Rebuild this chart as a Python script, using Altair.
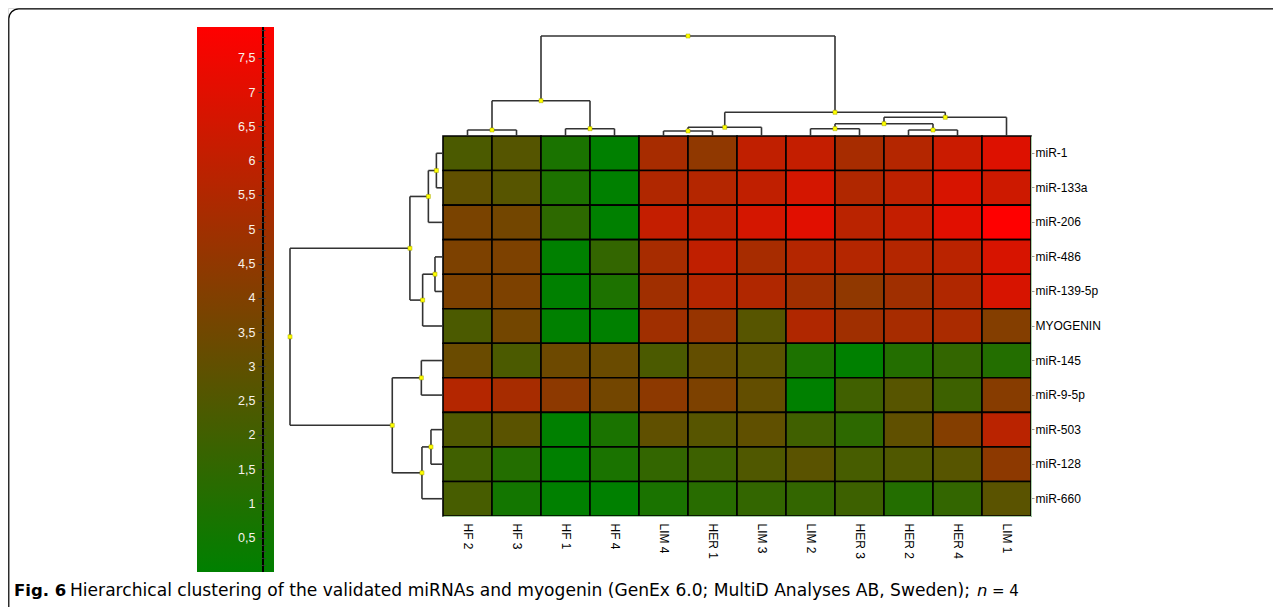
import altair as alt
import pandas as pd

# ---------------- data ----------------
columns = ["HF 2", "HF 3", "HF 1", "HF 4", "LIM 4", "HER 1", "LIM 3", "LIM 2", "HER 3", "HER 2", "HER 4", "LIM 1"]
rows = ["miR-1", "miR-133a", "miR-206", "miR-486", "miR-139-5p", "MYOGENIN",
        "miR-145", "miR-9-5p", "miR-503", "miR-128", "miR-660"]

v_mir1 = [2.35, 2.65, 0.8, 0.0, 5.2, 4.5, 6.0, 6.1, 5.2, 5.6, 6.3, 6.9]
v_mir133a = [3.0, 2.7, 0.9, 0.0, 5.5, 5.6, 6.0, 6.6, 5.5, 5.9, 6.7, 6.4]
v_mir206 = [3.8, 3.6, 1.4, 0.0, 6.1, 6.0, 6.6, 7.0, 5.8, 6.1, 7.0, 7.95]
v_mir486 = [3.9, 3.9, 0.0, 1.6, 5.2, 6.0, 5.2, 5.6, 5.6, 5.6, 5.8, 6.7]
v_mir139 = [3.9, 3.9, 0.0, 0.9, 5.0, 5.6, 5.5, 5.0, 4.5, 5.0, 5.5, 6.7]
v_myog = [2.35, 3.6, 0.0, 0.0, 5.0, 4.7, 2.7, 5.5, 5.0, 5.2, 5.3, 4.1]
v_mir145 = [3.3, 2.35, 3.4, 3.3, 2.35, 3.1, 2.8, 0.9, 0.0, 1.1, 1.6, 1.1]
v_mir9 = [5.6, 5.2, 4.4, 3.6, 4.4, 3.9, 3.1, 0.0, 2.0, 2.7, 1.9, 4.2]
v_mir503 = [2.5, 2.8, 0.0, 0.8, 3.0, 2.7, 3.0, 2.0, 1.4, 3.0, 4.1, 5.8]
v_mir128 = [2.0, 1.1, 0.0, 0.8, 1.6, 1.9, 2.5, 2.8, 2.2, 2.5, 2.7, 4.4]
v_mir660 = [2.2, 0.6, 0.0, 0.0, 0.8, 1.25, 1.6, 1.6, 1.9, 1.1, 1.6, 2.8]
heat_rows = [v_mir1, v_mir133a, v_mir206, v_mir486, v_mir139, v_myog,
             v_mir145, v_mir9, v_mir503, v_mir128, v_mir660]

# linkage: (child a, child b, height); ids >= n refer to earlier merges
col_merges = [(0, 1, 6.0), (2, 3, 7.3), (12, 13, 35.3), (4, 5, 5.0), (15, 6, 8.7),
              (7, 8, 7.3), (9, 10, 6.0), (17, 18, 12.3), (19, 11, 18.7), (16, 20, 23.7),
              (14, 21, 100.0)]
row_merges = [(0, 1, 6.6), (11, 2, 14.6), (3, 4, 8.0), (13, 5, 20.3), (12, 14, 33.0),
              (6, 7, 21.6), (8, 9, 12.0), (17, 10, 21.0), (16, 18, 50.6), (15, 19, 152.6)]

colorbar_max = 7.95
colorbar_ticks = [round(i / 10, 1) for i in range(1, 80)]

caption_bold = "Fig. 6"
caption_text = "Hierarchical clustering of the validated miRNAs and myogenin (GenEx 6.0; MultiD Analyses AB, Sweden);"
caption_italic = "n"
caption_end = "= 4"

# ---------------- layout ----------------
W, H = 1265, 599
HX0, HX1 = 435, 1023     # heatmap x extent
HY0, HY1 = 128, 508      # heatmap y extent
TOP_Y = 28               # top dendrogram root level
LEFT_X = 282             # left dendrogram root level
CB_Y0, CB_Y1 = 564, 19   # colour bar
CB_LINE = 255
GREEN, RED = "#008000", "#ff0000"
LINE = "#333333"
FONT = "Liberation Sans"
CAP_FONT = "DejaVu Sans"


def dendro(merges, n):
    pos = {i: float(i) for i in range(n)}
    hgt = {i: 0.0 for i in range(n)}
    segs, nodes = [], []
    for k, (a, b, h) in enumerate(merges):
        segs.append(dict(p=pos[a], p2=pos[a], h=hgt[a], h2=h))
        segs.append(dict(p=pos[b], p2=pos[b], h=hgt[b], h2=h))
        segs.append(dict(p=pos[a], p2=pos[b], h=h, h2=h))
        nid = n + k
        pos[nid] = (pos[a] + pos[b]) / 2
        hgt[nid] = h
        nodes.append(dict(p=pos[nid], h=h))
    return pd.DataFrame(segs), pd.DataFrame(nodes)


heat_df = pd.DataFrame([dict(row=r, col=c, value=heat_rows[i][j])
                        for i, r in enumerate(rows) for j, c in enumerate(columns)])

color_scale = alt.Scale(domain=[0, colorbar_max], range=[GREEN, RED], interpolate="rgb")

heat = alt.Chart(heat_df).mark_rect(stroke="black", strokeWidth=1.6).encode(
    x=alt.X("col:N", sort=columns,
            scale=alt.Scale(domain=columns, range=[HX0, HX1], paddingInner=0, paddingOuter=0),
            axis=alt.Axis(orient="bottom", offset=HY1 - H, labelAngle=90, labelAlign="left",
                          labelBaseline="middle", ticks=False, domainColor="#a9cfa9",
                          labelPadding=7, labelFont=FONT, labelFontSize=12, labelColor="black",
                          title=None, grid=False)),
    y=alt.Y("row:N", sort=rows,
            scale=alt.Scale(domain=rows, range=[HY0, HY1], paddingInner=0, paddingOuter=0),
            axis=alt.Axis(orient="right", offset=HX1 - W, tickSize=3, tickColor="#999999",
                          domainColor="#a9cfa9", labelPadding=1, labelFont=FONT,
                          labelFontSize=12, labelColor="black", title=None, grid=False)),
    color=alt.Color("value:Q", scale=color_scale, legend=None),
)

# top dendrogram
tseg, tnode = dendro(col_merges, len(columns))
tx = alt.Scale(domain=[-0.5, len(columns) - 0.5], range=[HX0, HX1], nice=False, zero=False)
ty = alt.Scale(domain=[0, col_merges[-1][2]], range=[HY0, TOP_Y], nice=False, zero=False)
top_rules = alt.Chart(tseg).mark_rule(color=LINE, strokeWidth=1.6).encode(
    x=alt.X("p:Q", scale=tx, axis=None), x2="p2:Q",
    y=alt.Y("h:Q", scale=ty, axis=None), y2="h2:Q")
top_nodes = alt.Chart(tnode).mark_square(size=16, color="#ffff00", opacity=1,
                                         stroke="#a0a000", strokeWidth=0.5).encode(
    x=alt.X("p:Q", scale=tx, axis=None), y=alt.Y("h:Q", scale=ty, axis=None))

# left dendrogram
lseg, lnode = dendro(row_merges, len(rows))
lx = alt.Scale(domain=[0, row_merges[-1][2]], range=[HX0, LEFT_X], nice=False, zero=False)
ly = alt.Scale(domain=[-0.5, len(rows) - 0.5], range=[HY0, HY1], nice=False, zero=False)
left_rules = alt.Chart(lseg).mark_rule(color=LINE, strokeWidth=1.6).encode(
    x=alt.X("h:Q", scale=lx, axis=None), x2="h2:Q",
    y=alt.Y("p:Q", scale=ly, axis=None), y2="p2:Q")
left_nodes = alt.Chart(lnode).mark_square(size=16, color="#ffff00", opacity=1,
                                          stroke="#a0a000", strokeWidth=0.5).encode(
    x=alt.X("h:Q", scale=lx, axis=None), y=alt.Y("p:Q", scale=ly, axis=None))

# colour bar
cb_df = pd.DataFrame([dict(lo=0.0, hi=colorbar_max)])
cb_scale = alt.Scale(domain=[0, colorbar_max], range=[CB_Y0, CB_Y1], nice=False, zero=False)
major = "abs(datum.value*2 - round(datum.value*2)) < 0.001"
grad = alt.Gradient(gradient="linear", x1=0, x2=0, y1=1, y2=0,
                    stops=[alt.GradientStop(color=GREEN, offset=0),
                           alt.GradientStop(color=RED, offset=1)])
cbar = alt.Chart(cb_df).mark_rect(color=grad).encode(
    x=alt.value(189), x2=alt.value(266),
    y=alt.Y("lo:Q", scale=cb_scale,
            axis=alt.Axis(orient="left", offset=-CB_LINE, values=colorbar_ticks, domain=False,
                          tickSize={"condition": {"test": major, "value": 5}, "value": 2},
                          tickColor="#3a3a3a", tickWidth=1, zindex=2,
                          labelExpr=f"{major} ? replace(format(datum.value, '.1~f'), '.', ',') : ''",
                          labelOverlap=False, labelFlush=False, labelPadding=3,
                          labelFont=FONT, labelFontSize=12.5, labelColor="#f8f2ea",
                          title=None, grid=False)),
    y2="hi:Q")
cline = alt.Chart(cb_df).mark_rule(color="black", strokeWidth=2).encode(
    x=alt.value(CB_LINE),
    y=alt.Y("lo:Q", scale=cb_scale,
            axis=alt.Axis(orient="right", offset=CB_LINE - W, values=colorbar_ticks, domain=False,
                          tickSize=2, tickColor="#3a3a3a", labels=False, zindex=2,
                          title=None, grid=False)),
    y2="hi:Q")

# frame
frame = alt.Chart(cb_df).mark_rect(fill=None, stroke="black", strokeWidth=1.2, cornerRadius=10).encode(
    x=alt.value(0.8), y=alt.value(0.8), x2=alt.value(W + 60), y2=alt.value(H + 60))

# caption
cap_df = pd.DataFrame([dict(a=caption_bold, b=caption_text, c=caption_italic, d=caption_end)])
cap1 = alt.Chart(cap_df).mark_text(align="left", baseline="middle", font=CAP_FONT, fontSize=16.5,
                                   fontWeight="bold", color="black").encode(
    x=alt.value(6), y=alt.value(583), text="a:N")
cap2 = alt.Chart(cap_df).mark_text(align="left", baseline="middle", font=CAP_FONT, fontSize=17.1,
                                   color="black").encode(
    x=alt.value(62), y=alt.value(583), text="b:N")
cap3 = alt.Chart(cap_df).mark_text(align="left", baseline="middle", font=CAP_FONT, fontSize=16.5,
                                   fontStyle="italic", color="black").encode(
    x=alt.value(969), y=alt.value(583), text="c:N")
cap4 = alt.Chart(cap_df).mark_text(align="left", baseline="middle", font=CAP_FONT, fontSize=15,
                                   color="black").encode(
    x=alt.value(984), y=alt.value(583), text="d:N")

chart = alt.layer(
    frame, cbar, cline, heat, top_rules, top_nodes, left_rules, left_nodes,
    cap1, cap2, cap3, cap4
).resolve_scale(
    x="independent", y="independent", color="independent"
).resolve_axis(
    x="independent", y="independent"
).properties(
    width=W, height=H, padding=0, autosize=alt.AutoSizeParams(type="none")
).configure_view(stroke=None).configure(background="white")

chart.save("out.html", embed_options={"renderer": "svg", "actions": False})
